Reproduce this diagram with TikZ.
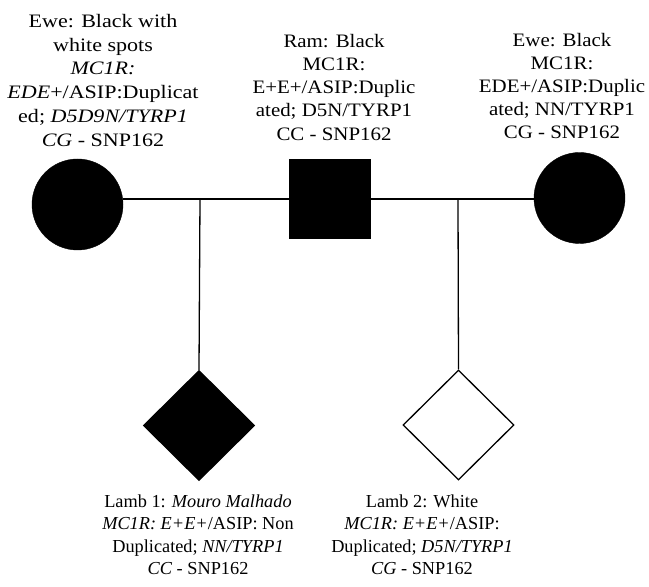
\documentclass[tikz,border=0pt]{standalone}
\usepackage{fontspec}
\setmainfont{Liberation Serif}
\newfontfamily\widefont{Liberation Serif}[FakeStretch=1.1]
\newfontfamily\widerfont{Liberation Serif}[FakeStretch=1.16]
\usetikzlibrary{shapes.geometric}
\begin{document}
\begin{tikzpicture}[x=1pt,y=1pt,
  conn/.style={line width=1.3pt},
  female/.style={circle,fill=black,draw=black,minimum size=91pt,inner sep=0pt},
  male/.style={rectangle,fill=black,draw=black,minimum width=81pt,minimum height=79pt,inner sep=0pt},
  kid/.style={diamond,draw=black,line width=1.3pt,minimum width=111pt,minimum height=110pt,inner sep=0pt},
  lbl/.style={align=center,anchor=north,inner sep=0pt},
  toplbl/.style={lbl,font=\widefont\fontsize{19}{23.2}\selectfont},
  botlbl/.style={lbl,font=\fontsize{18.3}{22.5}\selectfont}]
\useasboundingbox (0,0) rectangle (649,587);
% parents
\node[female] (ewe1) at (77.5,382.5) {};
\node[male] (ram) at (329.5,388.5) {};
\node[female] (ewe2) at (579.5,389) {};
% offspring
\node[kid,fill=black] (lamb1) at (199,161.5) {};
\node[kid,fill=white] (lamb2) at (458.5,162) {};
% mating line junctions
\coordinate (j1) at (200,388);
\coordinate (j2) at (458,388);
\draw[conn] (ewe1.east |- j1) -- (ram.west |- j1);
\draw[conn] (ram.east |- j2) -- (ewe2.west |- j2);
\draw[conn] (j1) -- (lamb1.north);
\draw[conn] (j2) -- (lamb2.north);
% labels
\node[toplbl,font=\widerfont\fontsize{19}{23.8}\selectfont] (t1) at (103,573) {Ewe: Black with\\ white spots\\ \textit{MC1R:}\\ \textit{EDE}+/ASIP:Duplicat\\ ed; \textit{D5D9N/TYRP1}\\ \textit{CG} - SNP162};
\node[toplbl] (t2) at (334,553) {Ram: Black\\ MC1R:\\ E+E+/ASIP:Duplic\\ ated; D5N/TYRP1\\ CC - SNP162};
\node[toplbl] (t3) at (562,554.3) {Ewe: Black\\ MC1R:\\ EDE+/ASIP:Duplic\\ ated; NN/TYRP1\\ CG - SNP162};
\node[botlbl] (t4) at (198,92.5) {Lamb 1: \textit{Mouro Malhado}\\ \textit{MC1R: E+E+}/ASIP: Non\\ Duplicated; \textit{NN/TYRP1}\\ \textit{CC} - SNP162};
\node[botlbl] (t5) at (422,92.5) {Lamb 2: White\\ \textit{MC1R: E+E+}/ASIP:\\ Duplicated; \textit{D5N/TYRP1}\\ \textit{CG} - SNP162};
\end{tikzpicture}
\end{document}
